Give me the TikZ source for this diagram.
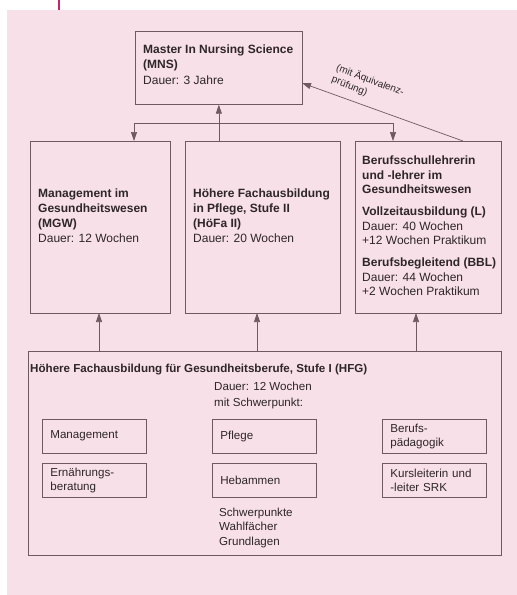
\documentclass[tikz,border=0pt]{standalone}
\usepackage{fontspec}
\setmainfont{Liberation Sans}
\usetikzlibrary{arrows.meta}
\definecolor{bgpink}{HTML}{F7E0E7}
\definecolor{ln}{HTML}{6E5A60}
\definecolor{txt}{HTML}{2E2629}
\definecolor{mag}{HTML}{C3256E}
\tikzset{
  box/.style={draw=ln, line width=0.7pt, anchor=north west, inner sep=0pt},
  small/.style={draw=ln, line width=0.7pt, anchor=north west, minimum width=104pt, minimum height=33.5pt,
     text width=88pt, inner xsep=8pt, inner ysep=0pt, align=left, text=txt,
     font=\fontsize{11.6}{14}\selectfont},
  txtn/.style={anchor=north west, inner sep=0pt, align=left, text=txt, font=\fontsize{12}{15}\selectfont},
  arr/.style={draw=ln, line width=0.7pt, -{Triangle[length=9pt,width=6pt]}},
  ln/.style={draw=ln, line width=0.7pt}
}
\begin{document}
\begin{tikzpicture}[x=1pt,y=-1pt]
\useasboundingbox (0,0) rectangle (517,595);
\fill[bgpink] (7,10) rectangle (517,595);
\draw[mag, line width=2.5pt] (59,0) -- (59,10);

% boxes
\node[box, minimum width=167pt, minimum height=73pt] (mns) at (135,31) {};
\node[box, minimum width=140pt, minimum height=172pt] (mgw) at (30,141) {};
\node[box, minimum width=155pt, minimum height=172pt] (hofa) at (185,141) {};
\node[box, minimum width=146pt, minimum height=172pt] (bs) at (355,141) {};
\node[box, minimum width=473pt, minimum height=204pt] (hfg) at (28,351) {};

% texts
\node[txtn] (mnst) at (143,44.7) {\textbf{Master In Nursing Science}\\\textbf{(MNS)}\\[1pt]Dauer: 3 Jahre};
\node[txtn] (mgwt) at (38,188.7) {\textbf{Management im}\\\textbf{Gesundheitswesen}\\\textbf{(MGW)}\\Dauer: 12 Wochen};
\node[txtn] (hofat) at (193,188.7) {\textbf{Höhere Fachausbildung}\\\textbf{in Pflege, Stufe II}\\\textbf{(HöFa II)}\\Dauer: 20 Wochen};
\node[txtn, font=\fontsize{12}{14.5}\selectfont] (bst) at (362,155.7) {\textbf{Berufsschullehrerin}\\\textbf{und -lehrer im}\\\textbf{Gesundheitswesen}\\[7.5pt]\textbf{Vollzeitausbildung (L)}\\Dauer: 40 Wochen\\+12 Wochen Praktikum\\[7.5pt]\textbf{Berufsbegleitend (BBL)}\\Dauer: 44 Wochen\\+2 Wochen Praktikum};
\node[txtn, font=\fontsize{11.6}{15}\selectfont] (hfgt) at (30,363.5) {\textbf{Höhere Fachausbildung für Gesundheitsberufe, Stufe I (HFG)}};
\node[txtn, font=\fontsize{11.6}{16}\selectfont] (dauer) at (214,381.6) {Dauer: 12 Wochen\\mit Schwerpunkt:};
\node[txtn, font=\fontsize{11.6}{14.7}\selectfont] (schw) at (219,507.6) {Schwerpunkte\\Wahlfächer\\Grundlagen};

% small boxes
\node[small] (man) at (42,419) {Management};
\node[small] (pfl) at (212,419) {Pflege};
\node[small] (ber) at (382,419) {Berufs-\\pädagogik};
\node[small] (ern) at (42,463) {Ernährungs-\\beratung};
\node[small] (heb) at (212,463) {Hebammen};
\node[small] (kur) at (382,463) {Kursleiterin und\\-leiter SRK};

% connectors top
\coordinate (hl) at (134,123);
\coordinate (hr) at (393,123);
\draw[ln] (hl) -- (hr);
\draw[arr] (hl) -- (hl |- mgw.north);
\draw[arr] (hr) -- (hr |- bs.north);
\draw[arr] (hofa.north -| mns.south) -- (mns.south);
\coordinate (dstart) at (463,141);
\coordinate (dend) at (302,83);
\draw[arr] (dstart) -- (dend);
\node[anchor=center, inner sep=0pt, align=left, text=txt, rotate=-21, font=\fontsize{10}{12.5}\selectfont] (lab) at (368,86) {(mit Äquivalenz-\\prüfung)};

% connectors bottom
\draw[arr] (hfg.north -| 99,0) -- (99,313);
\draw[arr] (hfg.north -| 257,0) -- (257,313);
\draw[arr] (hfg.north -| 416,0) -- (416,313);
\end{tikzpicture}
\end{document}
